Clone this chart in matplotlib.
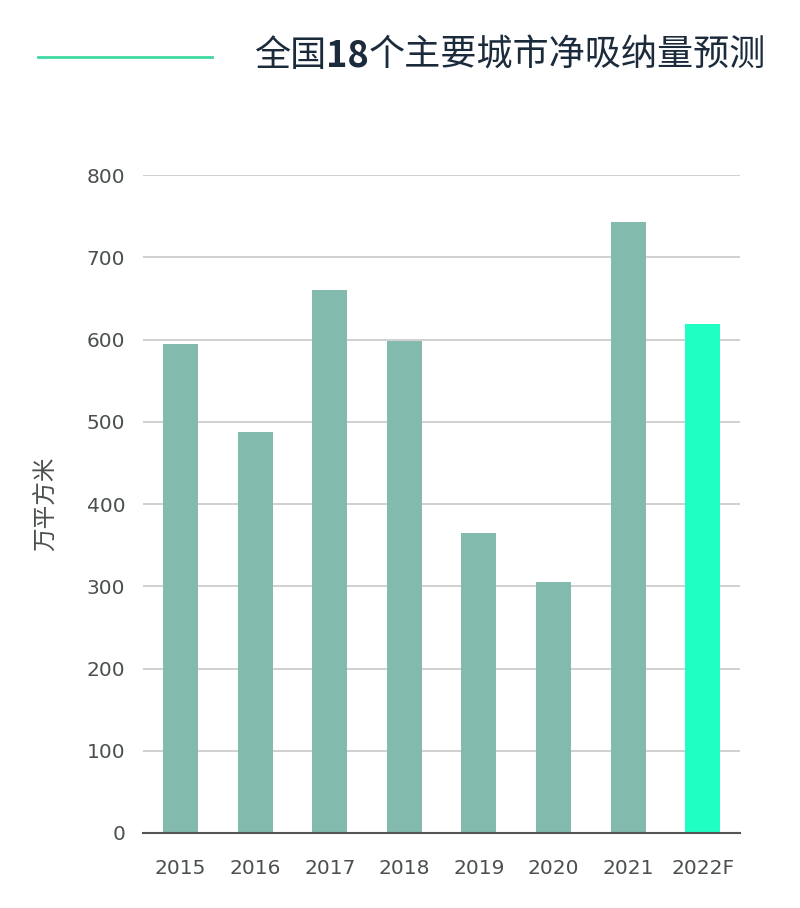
import matplotlib
matplotlib.use("Agg")
import matplotlib.pyplot as plt

plt.rcParams['font.family'] = ['Noto Sans CJK SC', 'DejaVu Sans']

years = ["2015", "2016", "2017", "2018", "2019", "2020", "2021", "2022F"]
values = [595, 488, 660, 598, 365, 305, 743, 619]
yticks = [0, 100, 200, 300, 400, 500, 600, 700, 800]

bar_color = "#82BAAE"
hi_color = "#1FFFC3"
colors = [bar_color] * (len(years) - 1) + [hi_color]

fig = plt.figure(figsize=(8, 9.08), dpi=100)
ax = fig.add_axes([0.179, 0.0826, 0.746, 0.7244])

x = range(len(years))
ax.bar(x, values, width=0.47, color=colors, zorder=3)

ax.set_xlim(-0.5, 7.5)
ax.set_ylim(0, 800)
ax.set_yticks(yticks)
ax.set_xticks(list(x))
ax.set_xticklabels(years)
ax.yaxis.grid(True, color="#c8c8c8", linewidth=1.2, zorder=0)
ax.tick_params(axis="both", length=0, labelsize=14.5, labelcolor="#4a4f50")
ax.tick_params(axis="x", pad=19)
ax.tick_params(axis="y", pad=13)
for lbl in ax.get_xticklabels() + ax.get_yticklabels():
    lbl.set_family(["DejaVu Sans"])
for side in ["top", "right", "left"]:
    ax.spines[side].set_visible(False)
ax.spines["bottom"].set_color("#555555")
ax.spines["bottom"].set_linewidth(1.5)
ax.spines["bottom"].set_zorder(4)

ax.set_ylabel("万平方米", fontsize=17, color="#4a4f50", labelpad=21)

# title with line, "18" in bold
fig.add_artist(plt.Line2D([38 / 800, 212 / 800], [1 - 57 / 908, 1 - 57 / 908],
                          color="#3ED9A0", linewidth=2))
title_parts = [("全国", "normal"), ("18", "bold"), ("个主要城市净吸纳量预测", "normal")]
renderer = fig.canvas.get_renderer()
xpos = 254 / 800
for part, weight in title_parts:
    t = fig.text(xpos, 1 - 56 / 908, part, fontsize=26, fontweight=weight,
                 color="#1B2B3C", va="center", ha="left")
    bb = t.get_window_extent(renderer=renderer)
    xpos += bb.width / fig.bbox.width

fig.savefig("out.png", dpi=100)
